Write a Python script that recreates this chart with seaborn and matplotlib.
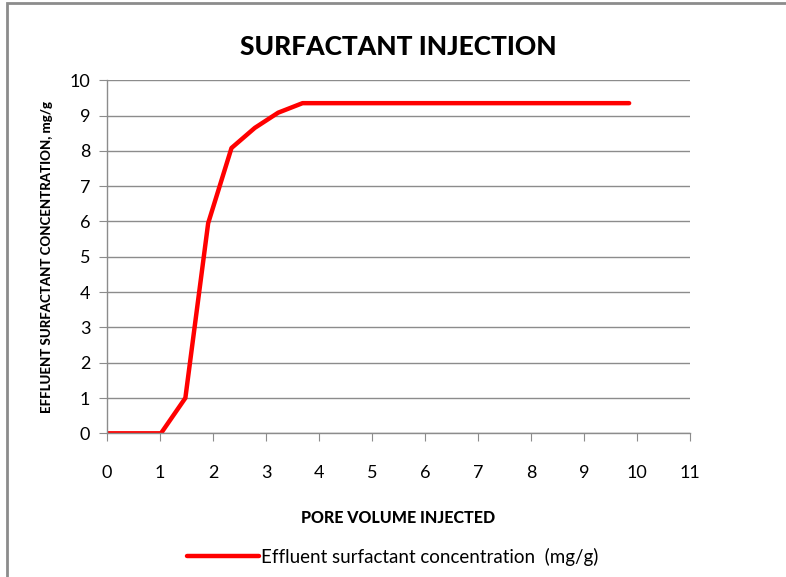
import matplotlib
matplotlib.use("Agg")
import matplotlib.pyplot as plt
import seaborn as sns
import pandas as pd
from matplotlib.patches import Rectangle

# data
pore_volume = [0.0, 1.02, 1.48, 1.91, 2.35, 2.79, 3.23, 3.69, 9.85]
concentration = [0.0, 0.0, 1.0, 5.95, 8.08, 8.65, 9.08, 9.35, 9.35]
series_name = "Effluent surfactant concentration  (mg/g)"

df = pd.DataFrame({"pv": pore_volume, "conc": concentration})

sns.set_style("white")
plt.rcParams["font.family"] = ["Lato", "DejaVu Sans"]
plt.rcParams["text.color"] = "black"
plt.rcParams["axes.labelcolor"] = "black"
plt.rcParams["xtick.labelcolor"] = "black"
plt.rcParams["ytick.labelcolor"] = "black"

fig = plt.figure(figsize=(7.86, 5.77), dpi=100)
ax = fig.add_axes([0.136, 0.249, 0.742, 0.612])

sns.lineplot(data=df, x="pv", y="conc", color="#ff0000", linewidth=3.2,
             label=series_name, ax=ax, legend=False)

ax.set_xlim(0, 11)
ax.set_ylim(0, 10)
ax.set_xticks(range(0, 12))
ax.set_yticks(range(0, 11))
ax.grid(axis="y", color="#8c8c8c", linewidth=1)
ax.set_axisbelow(True)
for s in ["top", "right"]:
    ax.spines[s].set_visible(False)
for s in ["left", "bottom"]:
    ax.spines[s].set_color("#8c8c8c")
    ax.spines[s].set_linewidth(1)
ax.tick_params(axis="both", direction="out", length=6, color="#8c8c8c",
               labelsize=13, labelcolor="black", bottom=True, left=True)
ax.tick_params(axis="x", pad=17)
ax.tick_params(axis="y", pad=6)

ax.set_title("SURFACTANT INJECTION", fontsize=19, fontweight="black", pad=18,
             color="black")
ax.set_xlabel("PORE VOLUME INJECTED", fontsize=11.5, fontweight="black",
              labelpad=21, color="black")
ax.set_ylabel("EFFLUENT SURFACTANT CONCENTRATION, mg/g", fontsize=9.5,
              fontweight="black", labelpad=12, color="black")

handles, labels = ax.get_legend_handles_labels()
leg = fig.legend(handles, labels, loc="center", bbox_to_anchor=(0.5, 0.035),
                 frameon=False, fontsize=13.5, handlelength=3.8, handletextpad=0.15)
for t in leg.get_texts():
    t.set_color("black")

# outer chart frame
fig.patches.append(Rectangle((0.009, -0.1), 1.2, 1.095, transform=fig.transFigure,
                             fill=False, edgecolor="#8c8c8c", linewidth=2))

fig.savefig("out.png", dpi=100)
